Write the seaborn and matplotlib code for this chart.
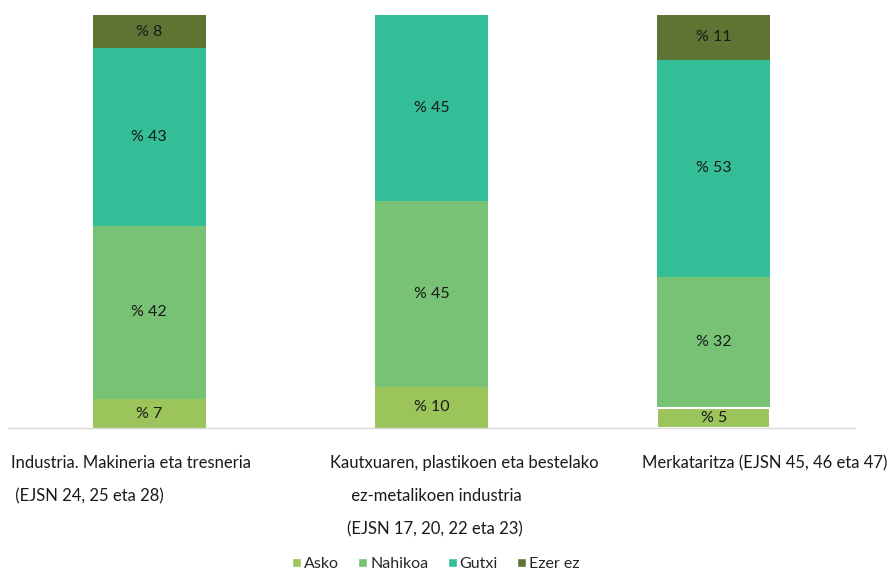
import matplotlib.pyplot as plt
import numpy as np
import pandas as pd
import seaborn as sns
from matplotlib.patches import Patch

categories = ["Industria", "Kautxua", "Merkataritza"]
series = ["Asko", "Nahikoa", "Gutxi", "Ezer ez"]
asko = [7, 10, 5]
nahikoa = [42, 45, 32]
gutxi = [43, 45, 53]
ezer_ez = [8, 0, 11]
cat_labels = [
    "Industria. Makineria eta tresneria\n (EJSN 24, 25 eta 28)",
    "Kautxuaren, plastikoen eta bestelako\n     ez-metalikoen industria\n    (EJSN 17, 20, 22 eta 23)",
    "Merkataritza (EJSN 45, 46 eta 47)",
]
colors = ["#9bc45a", "#78c275", "#33be97", "#5e7433"]

sns.set_theme(style="white")
plt.rcParams["font.family"] = ["Lato", "DejaVu Sans"]

vals = np.array([asko, nahikoa, gutxi, ezer_ez], dtype=float)
shares = vals / vals.sum(axis=0) * 100
cum = shares.cumsum(axis=0)

fig = plt.figure(figsize=(8.9, 5.75), dpi=100)
ax = fig.add_axes([8 / 890, 147 / 575, 847 / 890, 413 / 575])

# stacked bars as overlapping cumulative bars, top layer first
for i in range(len(series) - 1, -1, -1):
    df = pd.DataFrame({"cat": categories, "val": cum[i]})
    sns.barplot(data=df, x="cat", y="val", order=categories, color=colors[i],
                saturation=1, width=0.4, ax=ax, linewidth=0)

# thin white gap above the last Asko segment, as in the original
ax.patches[-1].set_edgecolor("white")
ax.patches[-1].set_linewidth(1.5)

for i in range(len(series)):
    for j in range(len(categories)):
        if vals[i, j] > 0:
            ax.text(j, cum[i, j] - shares[i, j] / 2, f"% {vals[i, j]:.0f}",
                    ha="center", va="center", fontsize=11.5, color="#1a1a1a")

ax.set_xlim(-0.5, 2.5)
ax.set_ylim(0, 100)
ax.set_xticks([])
ax.set_yticks([])
ax.set_xlabel("")
ax.set_ylabel("")
for s in ["top", "left", "right"]:
    ax.spines[s].set_visible(False)
ax.spines["bottom"].set_color("#d9d9d9")
ax.spines["bottom"].set_linewidth(1)

label_x = [-0.49, 0.64, 2.614]
label_ha = ["left", "left", "right"]
trans = ax.get_xaxis_transform()
for j, txt in enumerate(cat_labels):
    ax.text(label_x[j], -0.066, txt, transform=trans, ha=label_ha[j], va="top",
            fontsize=12, linespacing=2.3, color="#1a1a1a", clip_on=False)

handles = [Patch(facecolor=c, label=s) for c, s in zip(colors, series)]
fig.legend(handles=handles, loc="center", bbox_to_anchor=(436 / 890, 11 / 575),
           ncol=4, frameon=False, fontsize=11.5, handlelength=0.55, handleheight=0.55,
           handletextpad=0.2, columnspacing=1.2)

fig.savefig("out.png", dpi=100)
